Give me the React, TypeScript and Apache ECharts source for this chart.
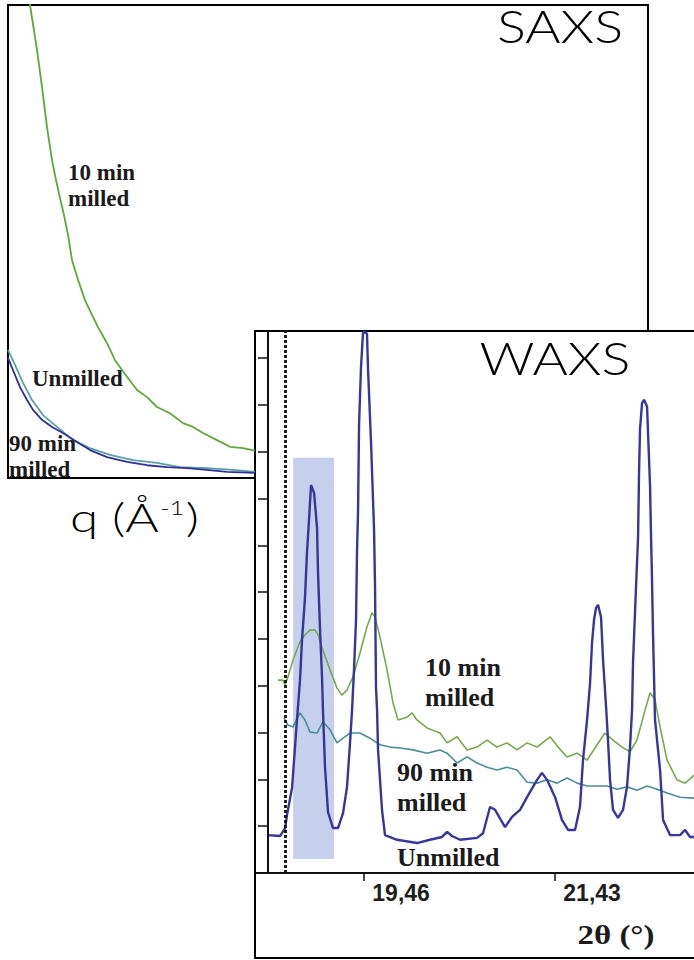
import React, { useEffect, useRef } from "react";
import * as echarts from "echarts";

// SAXS curves: [q (Å⁻¹), intensity (a.u.)]
const saxs10min: [number, number][] = [
  [0.0105, 103], [0.011, 100], [0.0145, 90.5], [0.017, 82.7], [0.0195, 74.2], [0.022, 67.2],
  [0.024, 63.0], [0.026, 59.2], [0.028, 55.6], [0.03, 51.4], [0.032, 46.1], [0.035, 41.9],
  [0.0385, 37.6], [0.042, 34.5], [0.045, 31.9], [0.0495, 28.5], [0.0535, 24.9], [0.0595, 21.4],
  [0.0645, 18.6], [0.0695, 17.1], [0.0745, 15.0], [0.081, 13.7], [0.0875, 11.6], [0.0925, 10.8],
  [0.0975, 9.5], [0.1045, 8.0], [0.111, 6.6], [0.1175, 6.3], [0.1235, 5.8],
];
const saxsUnmilled: [number, number][] = [
  [0.0, 25.4], [0.0025, 22.8], [0.006, 19.2], [0.0095, 16.5], [0.0125, 14.4], [0.017, 12.3],
  [0.022, 10.8], [0.0275, 9.5], [0.0345, 7.6], [0.041, 5.9], [0.0495, 4.4], [0.0595, 3.4],
  [0.0695, 2.7], [0.0795, 2.3], [0.0895, 2.1], [0.0995, 1.7], [0.1095, 1.3], [0.1235, 1.1],
];
const saxs90min: [number, number][] = [
  [0.0, 27.1], [0.0035, 23.9], [0.0075, 20.1], [0.012, 16.5], [0.0175, 13.3], [0.0245, 10.8],
  [0.0325, 8.0], [0.041, 6.3], [0.051, 4.9], [0.0625, 3.8], [0.0745, 3.2], [0.086, 2.3],
  [0.0995, 2.1], [0.1125, 1.7], [0.1235, 1.3],
];

// WAXS patterns: [2θ (°), intensity (a.u.)]
const waxsUnmilled: [number, number][] = [
  [18.477, 8.1], [18.601, 7.9], [18.653, 9.6], [18.673, 12.4], [18.725, 18.2], [18.776, 32.7],
  [18.807, 41.2], [18.828, 49.8], [18.859, 59.0], [18.879, 68.4], [18.9, 75.4], [18.921, 82.9],
  [18.952, 81.2], [18.983, 73.7], [18.993, 64.1], [19.014, 51.9], [19.034, 41.9], [19.044, 34.8],
  [19.065, 22.6], [19.096, 13.0], [19.148, 9.6], [19.199, 9.6], [19.251, 12.8], [19.292, 18.4],
  [19.323, 27.8], [19.344, 34.8], [19.364, 43.4], [19.385, 54.1], [19.395, 68.4], [19.406, 77.6],
  [19.416, 95.7], [19.436, 107.9], [19.457, 115.4], [19.478, 115.6], [19.498, 115.2],
  [19.509, 107.5], [19.54, 91.9], [19.571, 73.3], [19.581, 61.1], [19.591, 39.7], [19.602, 34.8],
  [19.612, 26.3], [19.653, 13.5], [19.684, 8.1], [19.808, 7.1], [20.014, 6.4], [20.148, 7.1],
  [20.272, 7.7], [20.324, 8.8], [20.375, 7.9], [20.458, 7.1], [20.633, 7.5], [20.695, 8.5],
  [20.767, 14.1], [20.819, 13.5], [20.922, 9.8], [20.994, 12.0], [21.077, 13.5], [21.149, 16.2],
  [21.252, 19.9], [21.303, 21.4], [21.355, 19.9], [21.438, 16.2], [21.51, 11.3], [21.572, 9.2],
  [21.644, 9.2], [21.695, 14.1], [21.726, 24.1], [21.768, 32.7], [21.799, 40.6], [21.819, 49.1],
  [21.84, 54.1], [21.86, 56.6], [21.881, 57.3], [21.912, 54.7], [21.933, 45.5], [21.964, 35.5],
  [21.984, 28.4], [22.005, 19.9], [22.036, 13.5], [22.087, 11.8], [22.139, 13.5], [22.18, 18.4],
  [22.211, 26.9], [22.232, 34.8], [22.242, 44.9], [22.273, 61.1], [22.294, 71.8], [22.304, 85.5],
  [22.314, 94.7], [22.335, 100.4], [22.356, 101.1], [22.387, 99.6], [22.397, 94.0], [22.418, 82.5],
  [22.428, 71.8], [22.438, 62.6], [22.448, 51.3], [22.469, 32.7], [22.521, 22.0], [22.552, 11.3],
  [22.624, 8.1], [22.727, 8.1], [22.779, 9.2], [22.83, 7.7], [22.871, 7.7],
];
const waxs10min: [number, number][] = [
  [18.58, 41.2], [18.632, 41.2], [18.653, 40.2], [18.683, 41.9], [18.735, 45.5], [18.807, 49.4],
  [18.859, 50.9], [18.91, 51.9], [18.962, 51.9], [18.993, 50.9], [19.044, 47.6], [19.117, 43.4],
  [19.189, 39.5], [19.24, 38.0], [19.292, 39.1], [19.354, 41.9], [19.426, 47.0], [19.498, 52.6],
  [19.55, 55.6], [19.581, 54.7], [19.632, 50.4], [19.705, 43.4], [19.767, 36.3], [19.818, 32.7],
  [19.911, 33.3], [19.963, 34.2], [20.014, 32.7], [20.117, 31.0], [20.251, 29.9], [20.324, 27.8],
  [20.427, 29.1], [20.53, 26.3], [20.633, 26.9], [20.736, 28.4], [20.839, 26.9], [20.942, 27.8],
  [21.046, 26.3], [21.149, 27.8], [21.252, 26.9], [21.386, 29.1], [21.469, 26.9], [21.561, 24.8],
  [21.665, 25.6], [21.768, 24.1], [21.871, 27.4], [21.953, 29.9], [22.036, 28.4], [22.129, 26.9],
  [22.211, 25.9], [22.283, 28.4], [22.366, 34.8], [22.418, 38.5], [22.469, 37.0], [22.521, 31.2],
  [22.593, 24.1], [22.696, 19.9], [22.779, 19.2], [22.851, 20.5], [22.871, 20.9],
];
const waxs90min: [number, number][] = [
  [18.642, 33.1], [18.683, 31.6], [18.735, 31.2], [18.807, 34.2], [18.859, 32.7], [18.91, 30.1],
  [18.983, 29.9], [19.044, 32.3], [19.117, 30.6], [19.189, 27.8], [19.251, 28.8], [19.323, 29.9],
  [19.426, 29.9], [19.529, 28.8], [19.632, 27.4], [19.736, 26.9], [19.839, 26.7], [19.973, 26.3],
  [20.117, 25.6], [20.251, 26.3], [20.324, 25.6], [20.427, 23.5], [20.53, 24.8], [20.633, 23.5],
  [20.736, 22.6], [20.839, 22.0], [20.942, 22.6], [21.046, 22.0], [21.149, 19.4], [21.252, 19.2],
  [21.355, 19.9], [21.458, 19.2], [21.561, 20.3], [21.665, 19.2], [21.768, 18.6], [21.974, 18.6],
  [22.077, 17.9], [22.18, 18.4], [22.283, 17.7], [22.387, 18.6], [22.49, 17.9], [22.593, 17.1],
  [22.727, 16.2], [22.871, 16.0],
];

// 2θ tick positions on the WAXS axis and the intensity tick values
const waxsTickValues = [19.46, 21.43];
const waxsIntensityTicks = [0, 10, 20, 30, 40, 50, 60, 70, 80, 90, 100, 110];

// Reference 2θ line and the highlighted peak band
const markerTwoTheta = 18.652;
const bandTwoTheta: [number, number] = [18.736, 19.159];
const bandIntensity: [number, number] = [3.0, 88.7];

const C_GREEN_SAXS = "#5ea83a";
const C_BLUE_SAXS = "#30309a";
const C_TEAL_SAXS = "#58a2a8";
const C_BLUE = "#36369c";
const C_GREEN = "#76aa4e";
const C_TEAL = "#4b8e96";

const SERIF = '"Liberation Serif", "Times New Roman", serif';
const SANS = '"Liberation Sans", Arial, sans-serif';
const THIN = 'Lato, "Open Sans", sans-serif';

export default function App() {
  const ref = useRef<HTMLDivElement>(null);

  useEffect(() => {
    if (!ref.current) return;
    const chart = echarts.init(ref.current, null, { renderer: "svg" });

    const label = (text: string, x: number, y: number, size: number, lh: number) => ({
      type: "text",
      x,
      y,
      silent: true,
      z: 20,
      style: {
        text,
        fill: "#1b1b1b",
        font: `bold ${size}px ${SERIF}`,
        lineHeight: lh,
        textAlign: "left",
        verticalAlign: "top",
        textVerticalAlign: "top",
      },
    });

    const title = (text: string, x: number, y: number) => ({
      type: "text",
      x,
      y,
      scaleX: 1.2,
      silent: true,
      z: 20,
      style: {
        text,
        fill: "#000",
        font: `300 45px ${THIN}`,
        textAlign: "center",
        verticalAlign: "middle",
        textVerticalAlign: "middle",
      },
    });

    chart.setOption({
      animation: false,
      backgroundColor: "#ffffff",
      grid: [
        { left: 8, top: 5, width: 640, height: 473, show: false },
        { left: 268, top: 331, right: 0, bottom: 87, show: false },
      ],
      xAxis: [
        { gridIndex: 0, type: "value", min: 0, max: 0.32, show: false },
        {
          gridIndex: 1,
          type: "value",
          min: 18.477,
          max: 22.871,
          z: 10,
          axisLine: { show: true, lineStyle: { color: "#111", width: 2 } },
          axisTick: {
            show: true,
            inside: false,
            length: 8,
            customValues: waxsTickValues,
            lineStyle: { color: "#111", width: 1.5 },
          },
          axisLabel: {
            show: true,
            customValues: waxsTickValues,
            formatter: (v: number) => v.toFixed(2).replace(".", ","),
            align: "left",
            padding: [0, 0, 0, 9],
            margin: 8,
            color: "#1e1e1e",
            fontFamily: SANS,
            fontWeight: "bold",
            fontSize: 23,
          },
          splitLine: { show: false },
        },
      ],
      yAxis: [
        { gridIndex: 0, type: "value", min: 0, max: 100, show: false },
        {
          gridIndex: 1,
          type: "value",
          min: 0,
          max: 115.8,
          z: 10,
          axisLine: { show: true, lineStyle: { color: "#111", width: 2 } },
          axisTick: {
            show: true,
            inside: false,
            length: 10,
            customValues: waxsIntensityTicks,
            lineStyle: { color: "#111", width: 1.5 },
          },
          axisLabel: { show: false },
          splitLine: { show: false },
        },
      ],
      series: [
        {
          name: "SAXS 90 min milled",
          type: "line",
          xAxisIndex: 0,
          yAxisIndex: 0,
          data: saxs90min,
          showSymbol: false,
          lineStyle: { color: C_TEAL_SAXS, width: 1.8 },
        },
        {
          name: "SAXS Unmilled",
          type: "line",
          xAxisIndex: 0,
          yAxisIndex: 0,
          data: saxsUnmilled,
          showSymbol: false,
          lineStyle: { color: C_BLUE_SAXS, width: 1.8 },
        },
        {
          name: "SAXS 10 min milled",
          type: "line",
          xAxisIndex: 0,
          yAxisIndex: 0,
          data: saxs10min,
          showSymbol: false,
          lineStyle: { color: C_GREEN_SAXS, width: 1.8 },
        },
        {
          name: "WAXS Unmilled",
          type: "line",
          xAxisIndex: 1,
          yAxisIndex: 1,
          data: waxsUnmilled,
          showSymbol: false,
          z: 4,
          lineStyle: { color: C_BLUE, width: 2.4 },
          markArea: {
            silent: true,
            itemStyle: { color: "#c5d0ec" },
            data: [
              [
                { xAxis: bandTwoTheta[0], yAxis: bandIntensity[0] },
                { xAxis: bandTwoTheta[1], yAxis: bandIntensity[1] },
              ],
            ],
          },
          markLine: {
            silent: true,
            symbol: ["none", "none"],
            label: { show: false },
            lineStyle: { color: "#111", type: [3, 2], width: 2.8 },
            data: [{ xAxis: markerTwoTheta }],
          },
        },
        {
          name: "WAXS 10 min milled",
          type: "line",
          xAxisIndex: 1,
          yAxisIndex: 1,
          data: waxs10min,
          showSymbol: false,
          z: 3,
          lineStyle: { color: C_GREEN, width: 1.6 },
        },
        {
          name: "WAXS 90 min milled",
          type: "line",
          xAxisIndex: 1,
          yAxisIndex: 1,
          data: waxs90min,
          showSymbol: false,
          z: 3,
          lineStyle: { color: C_TEAL, width: 1.6 },
        },
      ],
      graphic: {
        elements: [
          // SAXS frame (its lower-right part sits behind the WAXS panel)
          {
            type: "polyline",
            silent: true,
            shape: { points: [[255, 478], [8, 478], [8, 5], [648, 5], [648, 331]] },
            style: { stroke: "#000", lineWidth: 2, fill: "none" },
          },
          // WAXS frame
          {
            type: "rect",
            silent: true,
            shape: { x: 255, y: 331, width: 470, height: 627 },
            style: { stroke: "#000", lineWidth: 2, fill: "none" },
          },
          {
            type: "line",
            silent: true,
            shape: { x1: 256, y1: 873, x2: 268, y2: 873 },
            style: { stroke: "#111", lineWidth: 2 },
          },
          title("SAXS", 560, 26),
          title("WAXS", 555, 358),
          {
            type: "text",
            x: 70,
            y: 517,
            scaleX: 1.28,
            silent: true,
            style: {
              text: "{m|q (Å}{s|-1}{m|)}",
              fill: "#000",
              font: `300 40px ${THIN}`,
              textAlign: "left",
              verticalAlign: "middle",
              textVerticalAlign: "middle",
              rich: {
                m: { fontSize: 40, fontFamily: THIN, fontWeight: 300, fill: "#000" },
                s: { fontSize: 20, fontFamily: THIN, fontWeight: 300, fill: "#000", padding: [0, 1, 20, 1] },
              },
            },
          },
          {
            type: "text",
            x: 616,
            y: 935,
            scaleX: 1.22,
            silent: true,
            z: 20,
            style: {
              text: "2θ (°)",
              fill: "#1b1b1b",
              font: `bold 27px ${SERIF}`,
              textAlign: "center",
              verticalAlign: "middle",
              textVerticalAlign: "middle",
            },
          },
          label("10 min\nmilled", 68, 159, 23, 26),
          label("Unmilled", 32, 365, 23, 26),
          label("90 min\nmilled", 9, 430, 23, 26),
          label("10 min\nmilled", 425, 652, 26, 30),
          label("90 min\nmilled", 397, 757, 26, 30),
          label("Unmilled", 397, 842, 26, 30),
        ],
      },
    });

    return () => chart.dispose();
  }, []);

  return (
    <div
      ref={ref}
      style={{ position: "fixed", left: 0, top: 0, width: 694, height: 960, background: "#fff" }}
    />
  );
}
